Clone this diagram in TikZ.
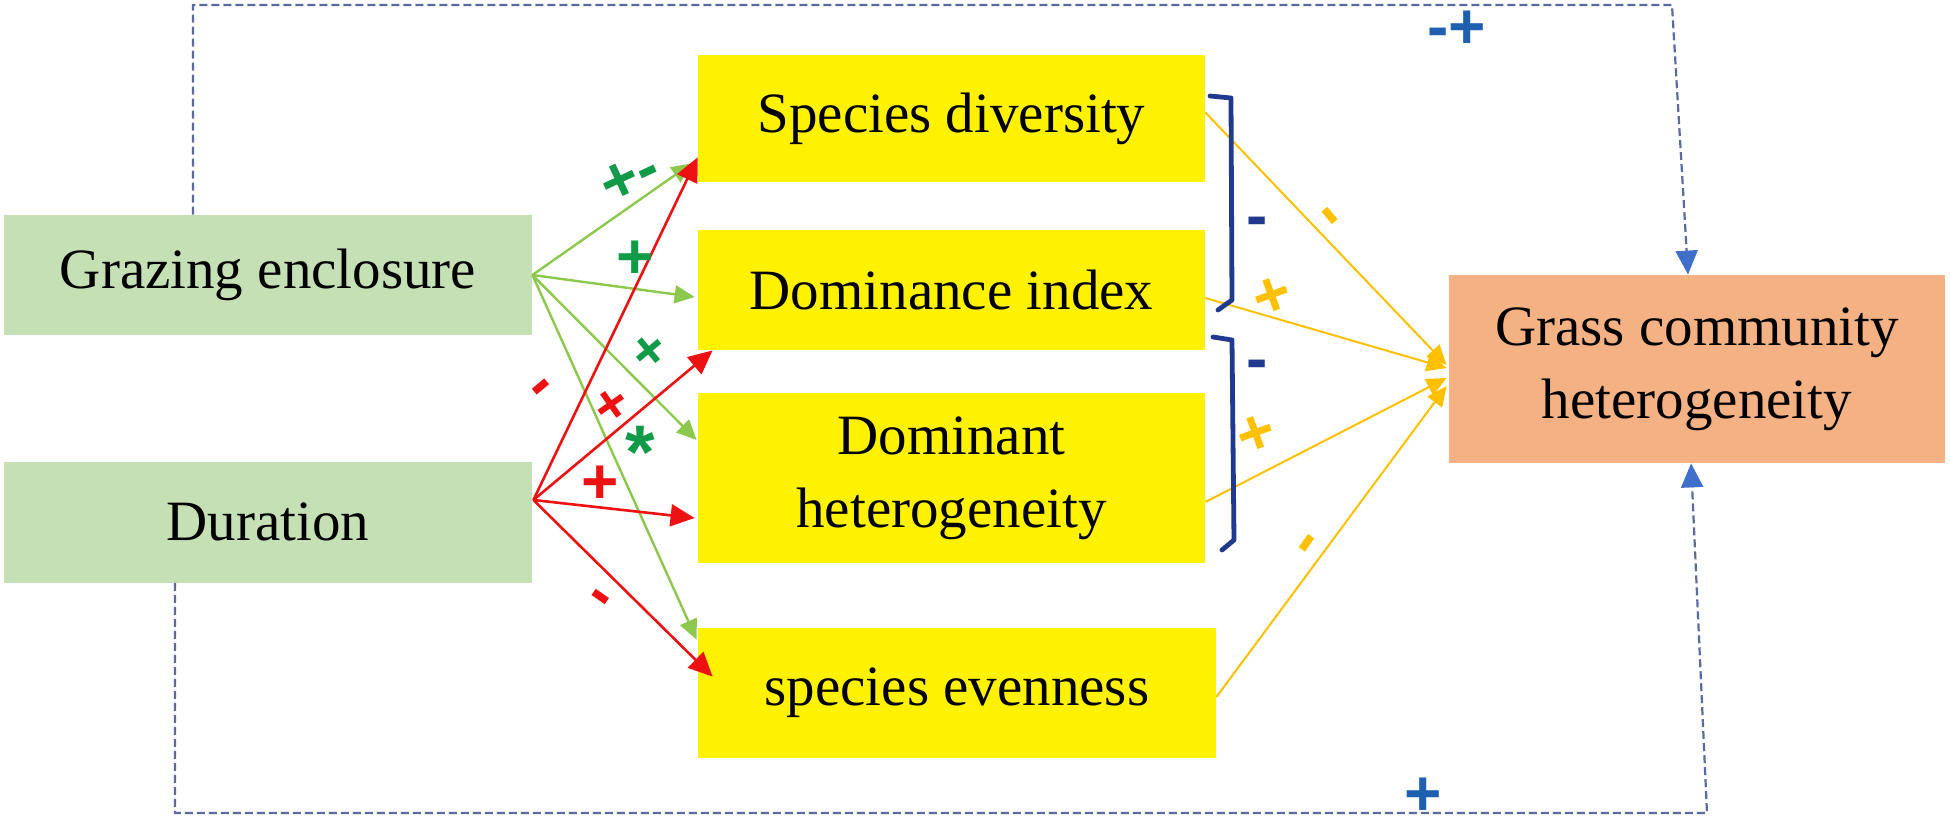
\documentclass[tikz,border=0pt]{standalone}
\usepackage{fontspec}
\setmainfont{Liberation Serif}
\setsansfont{Liberation Sans}
\usetikzlibrary{arrows.meta,calc}
\definecolor{boxgreen}{HTML}{C5E0B4}
\definecolor{boxorange}{HTML}{F4B183}
\definecolor{arrgreen}{HTML}{8CC84B}
\definecolor{arrred}{HTML}{EE1111}
\definecolor{arrgold}{HTML}{FFC000}
\definecolor{lblgreen}{HTML}{119A48}
\definecolor{navyb}{HTML}{1F3A8F}
\definecolor{dashblue}{HTML}{5B6AA0}
\definecolor{tipblue}{HTML}{3F6FC8}
\definecolor{lblblue}{HTML}{1F5FAF}
\begin{document}
\begin{tikzpicture}[x=0.5pt,y=-0.5pt,
  box/.style={rectangle, inner sep=0pt, align=center, font=\fontsize{28.5}{36.5}\selectfont},
  greenbox/.style={box, fill=boxgreen, minimum width=264pt, minimum height=60pt},
  yelbox/.style={box, fill=yellow, minimum width=253.5pt},
  orbox/.style={box, fill=boxorange, minimum width=248pt, minimum height=94pt},
  garrow/.style={draw=arrgreen, line width=1.2pt, -{Triangle[length=10pt,width=9pt]}},
  rarrow/.style={draw=arrred, line width=1.3pt, -{Triangle[length=12pt,width=11pt]}},
  oarrow/.style={draw=arrgold, line width=1pt, -{Triangle[length=10pt,width=9pt]}},
  dasharrow/.style={draw=dashblue, line width=1.1pt, dash pattern=on 4pt off 2pt,
     -{Triangle[length=12pt,width=11pt,fill=tipblue,color=tipblue]}},
  brk/.style={draw=navyb, line width=2.4pt, line join=round, line cap=round},
  lbl/.style={inner sep=0pt, font=\sffamily\bfseries\fontsize{32}{32}\selectfont},
  lblsm/.style={inner sep=0pt, font=\sffamily\bfseries\fontsize{28}{28}\selectfont},
]
\useasboundingbox (0,0) rectangle (1950,824);

% nodes
\node[greenbox] (ge) at (268,275) {Grazing enclosure};
\node[greenbox, minimum height=60.5pt] (du) at (268,522) {Duration};
\node[yelbox, minimum height=63.5pt] (sd) at (951.5,118.5) {Species diversity};
\node[yelbox, minimum height=60pt] (di) at (951.5,290) {Dominance index};
\node[yelbox, minimum height=85pt] (dh) at (951.5,478) {Dominant\\heterogeneity};
\node[yelbox, minimum width=259pt, minimum height=65pt] (se) at (957,693) {species evenness};
\node[orbox] (gc) at (1697,369) {Grass community\\heterogeneity};

% dashed feedback connectors
\coordinate (tl) at (193,5);
\coordinate (tr) at (1672,5);
\coordinate (bl) at (175,813);
\coordinate (br) at (1707,813);
\draw[dasharrow] (ge.north -| tl) -- (tl) -- (tr) -- ($(gc.north west)!0.482!(gc.north east)$);
\draw[dasharrow] (du.south -| bl) -- (bl) -- (br) -- ($(gc.south west)!0.488!(gc.south east)$);

% green arrows from grazing enclosure
\draw[garrow] (ge.east) -- ($(sd.south west)+(-6,-19)$);
\draw[garrow] (ge.east) -- ($(di.west)+(-3,7)$);
\draw[garrow] (ge.east) -- ($(dh.west)+(-1,-38)$);
\draw[garrow] (ge.east) -- ($(se.north west)+(-1,12)$);

% red arrows from duration
\coordinate (dsrc) at ($(du.east)+(1,-22)$);
\draw[rarrow] (dsrc) -- ($(sd.south west)+(0,-25)$);
\draw[rarrow] (dsrc) -- ($(di.south west)+(15,0)$);
\draw[rarrow] (dsrc) -- ($(dh.west)+(-3,40)$);
\draw[rarrow] (dsrc) -- ($(se.north west)+(15,49)$);

% golden arrows into grass community heterogeneity
\draw[oarrow] ($(sd.east)+(0,-6)$) -- ($(gc.west)+(-2,-4)$);
\draw[oarrow] ($(di.east)+(0,8)$) -- ($(gc.west)+(-2,-1)$);
\draw[oarrow] ($(dh.east)+(0,24)$) -- ($(gc.west)+(-2,9)$);
\draw[oarrow] ($(se.east)+(0,4)$) -- ($(gc.west)+(-2,17)$);

% brackets
\draw[brk] (1210,96) -- (1231,98) -- (1232,300) -- (1218,310);
\draw[brk] (1213,337) -- (1232,340) -- (1234,540) -- (1222,550);

% labels left
\node[lbl, text=lblgreen, rotate=25] (l1) at (630,178) {+-};
\node[lbl, text=lblgreen] (l2) at (635,260) {+};
\node[lblsm, text=lblgreen, rotate=40] (l3) at (650,352) {+};
\node[lbl, text=lblgreen, font=\sffamily\bfseries\fontsize{38}{38}\selectfont] (l4) at (640,452) {*};
\node[lbl, text=arrred, rotate=40] (l5) at (545,392) {-};
\node[lblsm, text=arrred, rotate=35] (l6) at (612,407) {+};
\node[lbl, text=arrred] (l7) at (600,485) {+};
\node[lbl, text=arrred, rotate=-35] (l8) at (597,602) {-};

% labels right
\node[lbl, text=arrgold, rotate=-50] (l9) at (1325,220) {-};
\node[lbl, text=arrgold, rotate=20] (l10) at (1273,297) {+};
\node[lbl, text=arrgold, rotate=20] (l11) at (1257,435) {+};
\node[lbl, text=arrgold, rotate=55] (l12) at (1312,547) {-};
\node[lbl, text=navyb] (l13) at (1257,227) {-};
\node[lbl, text=navyb] (l14) at (1257,370) {-};

% labels on feedback lines
\node[lbl, text=lblblue] (l15) at (1457,30) {-+};
\node[lbl, text=lblblue] (l16) at (1423,797) {+};
\end{tikzpicture}
\end{document}
